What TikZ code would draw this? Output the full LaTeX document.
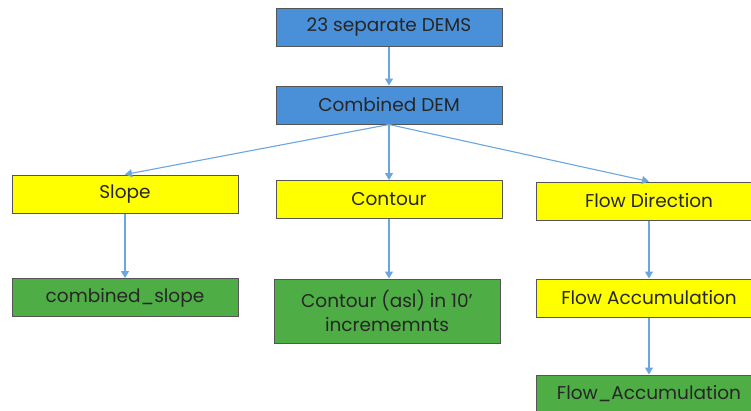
\documentclass[tikz,border=0pt]{standalone}
\usepackage{fontspec}
\setmainfont{Poppins}
\usetikzlibrary{arrows.meta}
\definecolor{boxblue}{HTML}{4A90D9}
\definecolor{boxyellow}{HTML}{FFFF00}
\definecolor{boxgreen}{HTML}{4EAE45}
\definecolor{arrowblue}{HTML}{6AA6E2}
\definecolor{edgegray}{HTML}{555555}
\tikzset{
  box/.style={draw=edgegray, line width=1pt, rectangle, minimum width=226pt, minimum height=38pt, inner sep=2pt, align=center, font=\fontsize{18.5}{24}\selectfont, text=black!85},
  bluebox/.style={box, fill=boxblue},
  yellowbox/.style={box, fill=boxyellow},
  greenbox/.style={box, fill=boxgreen},
  conn/.style={draw=arrowblue, line width=1.1pt, -{Triangle[width=8pt,length=7pt]}}
}
\begin{document}
\begin{tikzpicture}[x=1pt,y=-1pt]
\useasboundingbox (0,0) rectangle (751,410);
\clip (0,0) rectangle (751,410);
\fill[white] (0,0) rectangle (751,410);
\node[bluebox] (dems) at (389,27.5) {23 separate DEMS};
\node[bluebox] (comb) at (389,105) {Combined DEM};
\node[yellowbox] (slope) at (125,194) {Slope};
\node[yellowbox] (contour) at (389,199.5) {Contour};
\node[yellowbox] (fdir) at (649,201) {Flow Direction};
\node[greenbox] (cslope) at (125,297.5) {combined\_slope};
\node[greenbox, minimum height=64pt] (ccont) at (387,311) {Contour (asl) in 10’\\incrememnts};
\node[yellowbox] (facc) at (649,298) {Flow Accumulation};
\node[greenbox] (facc2) at (649,394) {Flow\_Accumulation};
\draw[conn] (dems) -- (comb);
\draw[conn] (comb.south) -- (slope.north);
\draw[conn] (comb.south) -- (contour.north);
\draw[conn] (comb.south) -- (fdir.north);
\draw[conn] (slope) -- (cslope);
\draw[conn] (contour.south) -- (contour.south |- ccont.north);
\draw[conn] (fdir) -- (facc);
\draw[conn] (facc) -- (facc2);
\end{tikzpicture}
\end{document}
